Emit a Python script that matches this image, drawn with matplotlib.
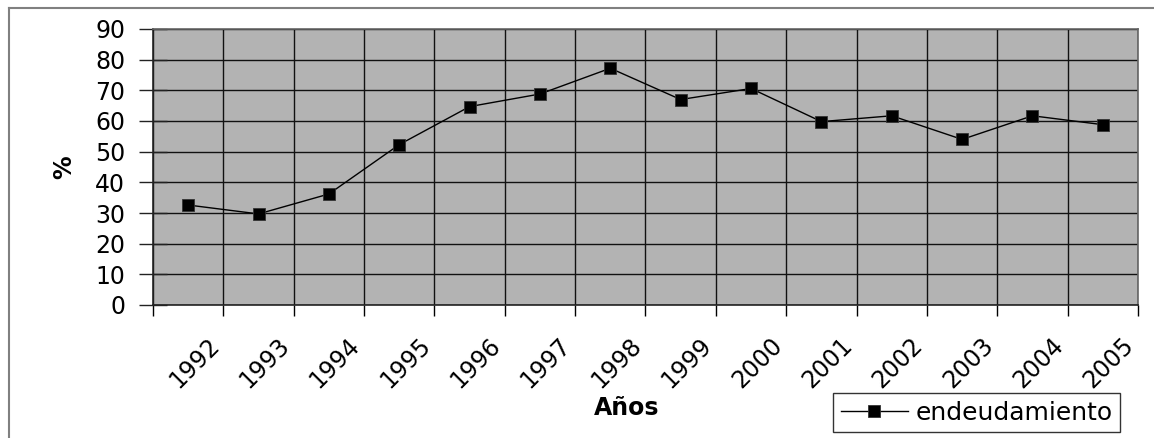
import matplotlib
matplotlib.use("Agg")
import matplotlib.pyplot as plt
from matplotlib.lines import Line2D
from matplotlib.transforms import ScaledTranslation
import numpy as np

years = ["1992", "1993", "1994", "1995", "1996", "1997", "1998",
         "1999", "2000", "2001", "2002", "2003", "2004", "2005"]
endeudamiento = [32.6, 29.7, 36.2, 52.3, 64.7, 68.8, 77.2,
                 67.0, 70.6, 59.8, 61.7, 54.0, 61.7, 58.8]
y_ticks = [0, 10, 20, 30, 40, 50, 60, 70, 80, 90]

plt.rcParams['font.family'] = ['DejaVu Sans']
FS = 17

W, H = 1154, 438
fig = plt.figure(figsize=(W / 100, H / 100), dpi=100)
ax = fig.add_axes([153 / W, 1 - 305 / H, (1138 - 153) / W, (305 - 29) / H])
ax.set_facecolor('#B3B3B3')

x = np.arange(len(years))
ax.plot(x, endeudamiento, color='black', lw=1.0, marker='s', ms=8.5,
        mfc='black', mec='#333333', mew=0.6, label='endeudamiento', zorder=3)

ax.set_xlim(-0.5, len(years) - 0.5)
ax.set_ylim(0, 90)
ax.set_yticks(y_ticks)
ax.set_yticklabels([str(v) for v in y_ticks], fontsize=FS)
ax.set_xticks(np.arange(-0.5, len(years), 1.0))
ax.set_xticklabels([])
ax.set_xticks(x, minor=True)
ax.set_xticklabels(years, minor=True, fontsize=FS, rotation=45,
                   ha='center', va='top')
ax.tick_params(axis='x', which='minor', length=0, pad=20)
ax.tick_params(axis='x', which='major', direction='out', length=8, width=1, color='black')
ax.tick_params(axis='y', which='major', direction='inout', length=20, width=1,
               color='#222222', pad=10)
off = ScaledTranslation(6 / 100, 0, fig.dpi_scale_trans)
for lab in ax.get_xticklabels(minor=True):
    lab.set_transform(lab.get_transform() + off)

ax.grid(True, which='major', color='#111111', lw=1.0)
ax.set_axisbelow(True)
for s in ['top', 'right']:
    ax.spines[s].set_color('#666666')
    ax.spines[s].set_linewidth(1.2)
for s in ['left', 'bottom']:
    ax.spines[s].set_color('#222222')
    ax.spines[s].set_linewidth(1.2)

ax.set_ylabel('%', fontsize=FS, fontweight='bold')
ax.yaxis.set_label_coords(76 / W, 1 - 167 / H, transform=fig.transFigure)
fig.text(627 / W, 1 - 408 / H, 'Años', fontsize=FS, fontweight='bold',
         ha='center', va='center')

leg = fig.legend(loc='upper left', bbox_to_anchor=(833 / W, 1 - 393 / H),
                 fontsize=18, frameon=True, fancybox=False, handlelength=2.7,
                 borderpad=0.3, handletextpad=0.3, borderaxespad=0)
leg.get_frame().set_edgecolor('black')
leg.get_frame().set_linewidth(1.0)

fig.add_artist(Line2D([9 / W, 9 / W], [0, 1 - 7.5 / H], transform=fig.transFigure,
                      color='#808080', lw=1.5))
fig.add_artist(Line2D([9 / W, 1], [1 - 7.5 / H, 1 - 7.5 / H], transform=fig.transFigure,
                      color='#808080', lw=1.5))

fig.savefig('out.png', dpi=100)
